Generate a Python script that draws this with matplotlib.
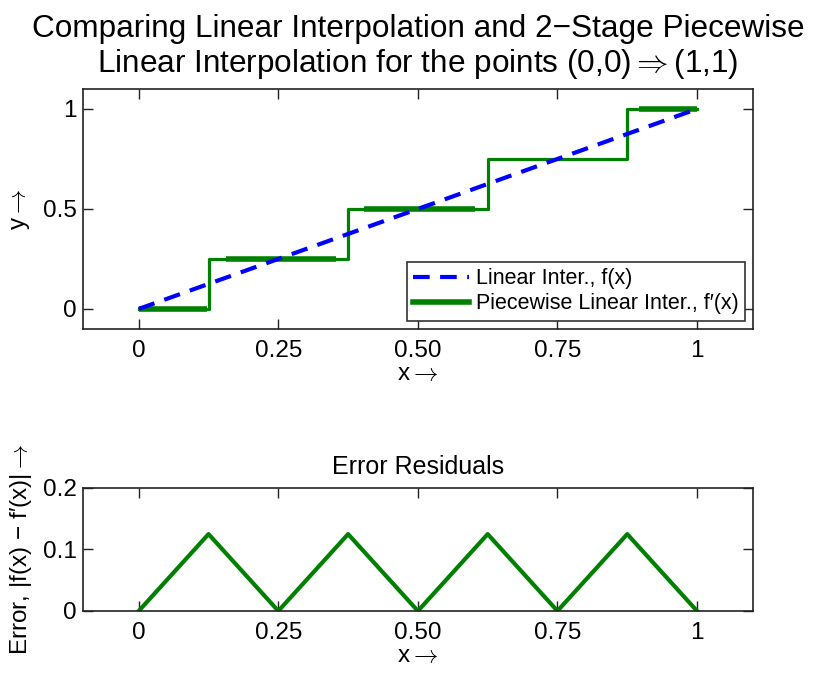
import numpy as np
import matplotlib
matplotlib.use("Agg")
import matplotlib.pyplot as plt
from matplotlib.lines import Line2D

plt.rcParams['font.family'] = ['Liberation Sans', 'DejaVu Sans']
plt.rcParams['axes.unicode_minus'] = True
plt.rcParams['mathtext.fontset'] = 'cm'

# Data
lin_x = [0.0, 1.0]
lin_y = [0.0, 1.0]
step_x = [0.0, 0.125, 0.125, 0.375, 0.375, 0.625, 0.625, 0.875, 0.875, 1.0]
step_y = [0.0, 0.0, 0.25, 0.25, 0.5, 0.5, 0.75, 0.75, 1.0, 1.0]
# emphasised (thick) stretches of the piecewise line
thick_x0 = [0.0, 0.157, 0.404, 0.896]
thick_x1 = [0.122, 0.354, 0.603, 1.0]
thick_y = [0.0, 0.25, 0.5, 1.0]
err_x = [0.0, 0.125, 0.25, 0.375, 0.5, 0.625, 0.75, 0.875, 1.0]
err_y = [0.0, 0.125, 0.0, 0.125, 0.0, 0.125, 0.0, 0.125, 0.0]
xticks = [0, 0.25, 0.5, 0.75, 1]
xticklabels = ["0", "0.25", "0.50", "0.75", "1"]
yticks_top = [0, 0.5, 1]
yticklabels_top = ["0", "0.5", "1"]
yticks_bot = [0, 0.1, 0.2]
yticklabels_bot = ["0", "0.1", "0.2"]

green = (0, 0.5, 0)
blue = (0, 0, 1)
ARROW = r"${\rightarrow}$"

fig = plt.figure(figsize=(8.21, 6.74), dpi=100)
ax1 = fig.add_axes([0.101, 0.512, 0.816, 0.356])
ax2 = fig.add_axes([0.101, 0.0935, 0.816, 0.1825])

ax1.plot(lin_x, lin_y, color=blue, lw=3, dashes=(4, 2.5), zorder=3)
ax1.plot(step_x, step_y, color=green, lw=2.3, zorder=2)
for a, b, y in zip(thick_x0, thick_x1, thick_y):
    ax1.plot([a, b], [y, y], color=green, lw=4, solid_capstyle='butt', zorder=2)
handles = [Line2D([], [], color=blue, lw=3, dashes=(4, 2.5)),
           Line2D([], [], color=green, lw=4)]
leg = ax1.legend(handles, ["Linear Inter., f(x)", "Piecewise Linear Inter., f\u2032(x)"],
                 loc='lower right', fontsize=15.5, fancybox=False, framealpha=1,
                 edgecolor='#333333', borderpad=0.3, labelspacing=0.2,
                 handlelength=2.6, handletextpad=0.3, borderaxespad=0.37)
leg.get_frame().set_linewidth(1.2)

ax1.set_xlim(-0.1, 1.1)
ax1.set_ylim(-0.1, 1.1)
ax1.set_xticks(xticks)
ax1.set_xticklabels(xticklabels)
ax1.set_yticks(yticks_top)
ax1.set_yticklabels(yticklabels_top)
ax1.set_xlabel("x" + ARROW, fontsize=17.5, labelpad=1)
ax1.set_ylabel("y" + ARROW, fontsize=17.5, labelpad=8)
ax1.set_title("Comparing Linear Interpolation and 2\u2212Stage Piecewise\n"
              "Linear Interpolation for the points (0,0)" + r"${\Rightarrow}$" + "(1,1)",
              fontsize=22.7, pad=12, linespacing=1.15)

ax2.plot(err_x, err_y, color=green, lw=3)
ax2.set_xlim(-0.1, 1.1)
ax2.set_ylim(0, 0.2)
ax2.set_xticks(xticks)
ax2.set_xticklabels(xticklabels)
ax2.set_yticks(yticks_bot)
ax2.set_yticklabels(yticklabels_bot)
ax2.set_xlabel("x" + ARROW, fontsize=17.5, labelpad=1)
ax2.set_ylabel("Error, |f(x) \u2212 f\u2032(x)|" + ARROW, fontsize=17.5, labelpad=6)
ax2.set_title("Error Residuals", fontsize=18, pad=10)

for ax in (ax1, ax2):
    ax.tick_params(direction='in', length=7, width=1, top=True, right=True,
                   labelsize=17.5, color='#222222')
    ax.tick_params(axis='x', pad=8)
    ax.tick_params(axis='y', pad=4.5)
    for s in ax.spines.values():
        s.set_linewidth(1.2)
        s.set_color('#222222')

fig.savefig("out.png", dpi=100)
